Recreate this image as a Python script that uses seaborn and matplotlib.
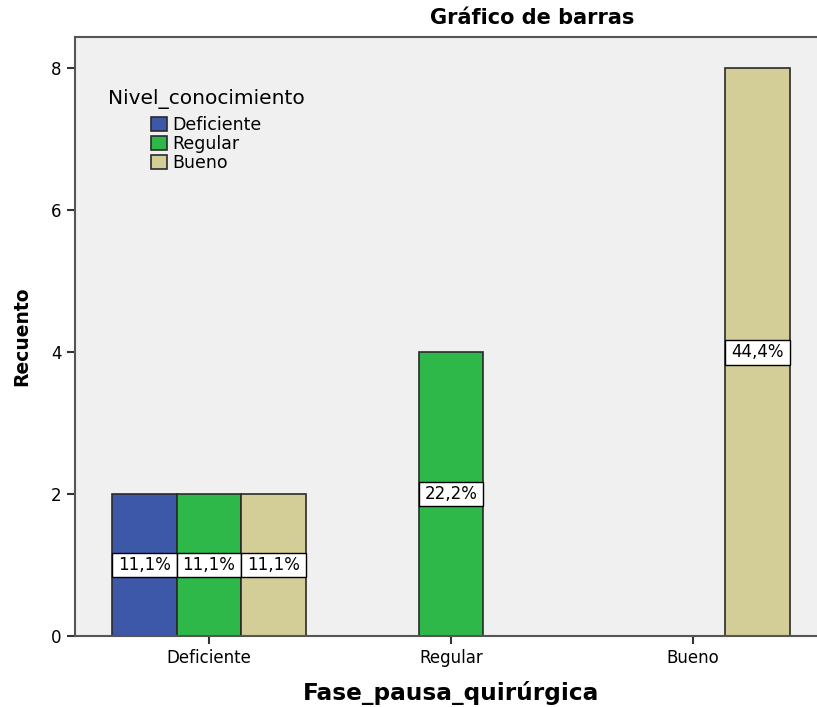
import pandas as pd
import matplotlib
matplotlib.use('Agg')
import matplotlib.pyplot as plt
import seaborn as sns
from matplotlib.patches import Rectangle

fase = ['Deficiente', 'Deficiente', 'Deficiente', 'Regular', 'Bueno']
nivel = ['Deficiente', 'Regular', 'Bueno', 'Regular', 'Bueno']
recuento = [2, 2, 2, 4, 8]
categorias = ['Deficiente', 'Regular', 'Bueno']
colores = ['#3D57A9', '#2EB84A', '#D3CE97']

df = pd.DataFrame({'Fase_pausa_quirúrgica': fase,
                   'Nivel_conocimiento': nivel,
                   'Recuento': recuento})
total = sum(recuento)

sns.set_style('ticks')
plt.rcParams['font.family'] = ['DejaVu Sans']
plt.rcParams['text.color'] = 'black'
plt.rcParams['axes.labelcolor'] = 'black'

fig = plt.figure(figsize=(8.17, 7.07), dpi=100)
ax = fig.add_axes([75 / 817, 1 - 636 / 707, 752 / 817, 599 / 707])
ax.set_facecolor('#F0F0F0')

sns.barplot(data=df, x='Fase_pausa_quirúrgica', y='Recuento', hue='Nivel_conocimiento',
            order=categorias, hue_order=categorias, palette=colores, saturation=1,
            edgecolor='#2a2a2a', linewidth=1.2, width=0.8, ax=ax)

# percent boxes in the middle of each bar
for bar in ax.patches:
    h = bar.get_height()
    if not h or h != h:
        continue
    x0, w = bar.get_x(), bar.get_width()
    ax.add_patch(Rectangle((x0, h / 2 - 0.175), w, 0.35, facecolor='white',
                           edgecolor='black', linewidth=1, zorder=5))
    ax.text(x0 + w / 2, h / 2, f'{h / total * 100:.1f}%'.replace('.', ','),
            ha='center', va='center', fontsize=12, color='black', zorder=6)

ax.set_xlim(-0.554, 2.554)
ax.set_ylim(0, 8.44)
ax.set_yticks([0, 2, 4, 6, 8])
ax.tick_params(axis='both', colors='#333333', labelcolor='black', labelsize=12,
               length=6, width=1.5, direction='out')
for s in ['left', 'bottom', 'top', 'right']:
    ax.spines[s].set_color('#555555')
    ax.spines[s].set_linewidth(1.5)

ax.set_xlabel('Fase_pausa_quirúrgica', fontsize=16.7, fontweight='bold', labelpad=10)
ax.set_ylabel('Recuento', fontsize=13.5, fontweight='bold', labelpad=14)
fig.text(532 / 817, 1 - 18 / 707, 'Gráfico de barras', ha='center', va='center',
         fontsize=15, fontweight='bold')

leg = ax.legend(title='Nivel_conocimiento', loc='upper left', frameon=False,
                bbox_to_anchor=(26 / 752, 1 - 45 / 599), fontsize=12.5,
                title_fontsize=14.5, handlelength=0.95, handleheight=0.85,
                handletextpad=0.3, labelspacing=0.05, borderaxespad=0)
leg._legend_box.sep = 5
for p in leg.get_patches():
    p.set_edgecolor('#2a2a2a')

fig.savefig('out.png', dpi=100)
